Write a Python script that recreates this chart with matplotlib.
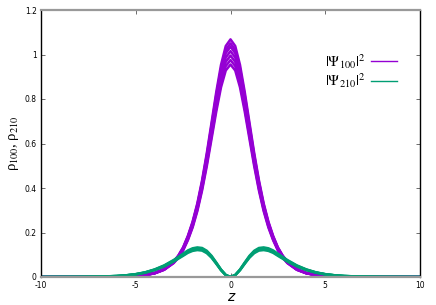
import matplotlib
matplotlib.use('Agg')
import matplotlib.pyplot as plt
import numpy as np

# --- data ---
z = np.array([-10, -8, -7, -6, -5.5, -5, -4.5, -4, -3.5, -3, -2.75, -2.5, -2.25, -2,
              -1.75, -1.5, -1.25, -1, -0.75, -0.5, -0.25, 0, 0.25, 0.5, 0.75, 1,
              1.25, 1.5, 1.75, 2, 2.25, 2.5, 2.75, 3, 3.5, 4, 4.5, 5, 5.5, 6, 7, 8, 10])

# |Psi_100|^2 profile (normalised to peak 1)
rho100 = np.array([0, 0.0001, 0.0003, 0.0011, 0.0023, 0.0045, 0.0088, 0.0172, 0.0337,
                   0.0654, 0.0907, 0.125, 0.173, 0.233, 0.310, 0.407, 0.522, 0.650,
                   0.779, 0.893, 0.972, 1.0, 0.972, 0.893, 0.779, 0.650, 0.522, 0.407,
                   0.310, 0.233, 0.173, 0.125, 0.0907, 0.0654, 0.0337, 0.0172, 0.0088,
                   0.0045, 0.0023, 0.0011, 0.0003, 0.0001, 0])
# |Psi_210|^2 profile
rho210 = np.array([0, 0.0005, 0.0015, 0.0044, 0.0076, 0.0126, 0.0207, 0.0334, 0.0509,
                   0.0745, 0.0882, 0.102, 0.1164, 0.1258, 0.1297, 0.1272, 0.1149, 0.0929,
                   0.0634, 0.0326, 0.0089, 0, 0.0089, 0.0326, 0.0634, 0.0929, 0.1149,
                   0.1272, 0.1297, 0.1258, 0.1164, 0.102, 0.0882, 0.0745, 0.0509, 0.0334,
                   0.0207, 0.0126, 0.0076, 0.0044, 0.0015, 0.0005, 0])

# peak heights of the individual snapshots
peaks100 = [0.955, 0.975, 0.995, 1.015, 1.035, 1.05, 1.068]
peaks210 = [0.121, 0.125, 0.129, 0.133]

purple = '#9400d3'
green = '#009e73'

plt.rcParams['mathtext.fontset'] = 'stix'
fig = plt.figure(figsize=(4.36, 3.05), dpi=100)
ax = fig.add_axes([41/436, 1-277/305, (420-41)/436, (277-10)/305])

for i, p in enumerate(peaks100):
    ax.plot(z, rho100 * p, c=purple, lw=1.8,
            label=r'$|\Psi_{100}|^2$' if i == 0 else None)
for i, p in enumerate(peaks210):
    ax.plot(z, rho210 * p / rho210.max(), c=green, lw=1.8,
            label=r'$|\Psi_{210}|^2$' if i == 0 else None)

ax.set_xlim(-10, 10)
ax.set_ylim(0, 1.2)
ax.set_xticks([-10, -5, 0, 5, 10])
ax.set_xticklabels(['-10', '-5', '0', '5', '10'])
ax.set_yticks([0, 0.2, 0.4, 0.6, 0.8, 1.0, 1.2])
ax.set_yticklabels(['0', '0.2', '0.4', '0.6', '0.8', '1', '1.2'])
ax.tick_params(direction='in', length=3, width=0.6, labelsize=5.5,
               top=True, right=True, pad=3, color='#555555')

for s in ['left', 'right']:
    ax.spines[s].set_color('black')
    ax.spines[s].set_linewidth(1.0)
for s in ['top', 'bottom']:
    ax.spines[s].set_color('#999999')
    ax.spines[s].set_linewidth(1.6)

ax.set_xlabel('z', fontstyle='italic', fontsize=10, labelpad=0)
ax.set_ylabel('ρ$_{100}$, ρ$_{210}$', family='Liberation Serif', fontsize=10.5,
              labelpad=3)

leg = ax.legend(loc='upper right', bbox_to_anchor=(397/436, 1-52/305),
                bbox_transform=fig.transFigure, frameon=False, markerfirst=False,
                fontsize=10.5, handlelength=1.75, handletextpad=0.45, labelspacing=0.05,
                borderpad=0, borderaxespad=0)
for line in leg.get_lines():
    line.set_linewidth(1.0)

fig.savefig('out.png', dpi=100)
